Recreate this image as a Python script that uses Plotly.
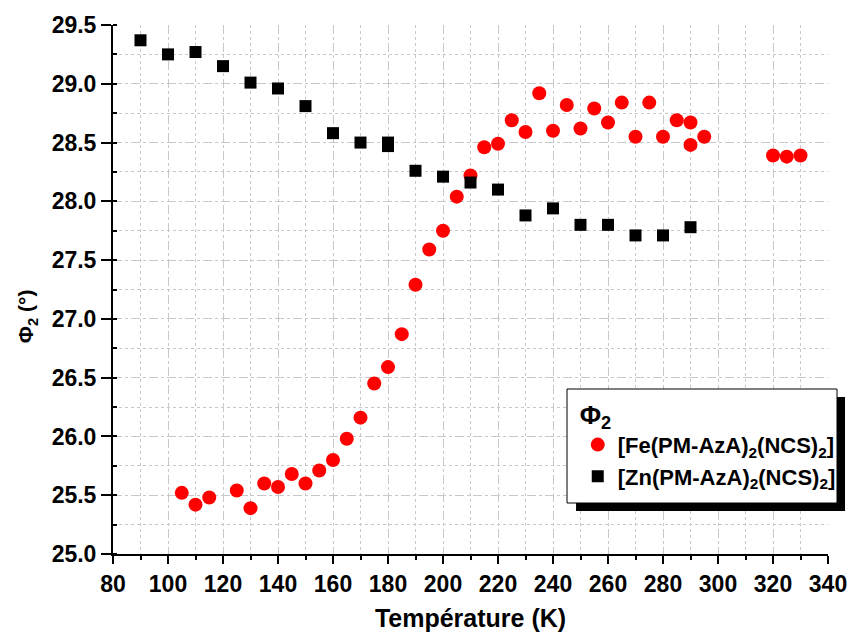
import plotly.graph_objects as go

# Fe complex (red circles)
fe_T = [105, 110, 115, 125, 130, 135, 140, 145, 150, 155, 160, 165, 170, 175, 180,
        185, 190, 195, 200, 205, 210, 215, 220, 225, 230, 235, 240, 245, 250, 255,
        260, 265, 270, 275, 280, 285, 290, 290, 295, 320, 325, 330]
fe_phi = [25.52, 25.42, 25.48, 25.54, 25.39, 25.60, 25.57, 25.68, 25.60, 25.71, 25.80,
          25.98, 26.16, 26.45, 26.59, 26.87, 27.29, 27.59, 27.75, 28.04, 28.22, 28.46,
          28.49, 28.69, 28.59, 28.92, 28.60, 28.82, 28.62, 28.79, 28.67, 28.84, 28.55,
          28.84, 28.55, 28.69, 28.67, 28.48, 28.55, 28.39, 28.38, 28.39]

# Zn complex (black squares)
zn_T = [90, 100, 110, 120, 130, 140, 150, 160, 170, 180, 180, 190, 200, 210, 220,
        230, 240, 250, 260, 270, 280, 290]
zn_phi = [29.37, 29.25, 29.27, 29.15, 29.01, 28.96, 28.81, 28.58, 28.50, 28.50, 28.47,
          28.26, 28.21, 28.16, 28.10, 27.88, 27.94, 27.80, 27.80, 27.71, 27.71, 27.78]

x_ticks = list(range(80, 341, 20))
y_ticks = [25.0, 25.5, 26.0, 26.5, 27.0, 27.5, 28.0, 28.5, 29.0, 29.5]

FONT = "Arial, Liberation Sans, sans-serif"

fig = go.Figure()
fig.add_trace(go.Scatter(
    x=fe_T, y=fe_phi, mode="markers",
    name="<b>[Fe(PM-AzA)<sub>2</sub>(NCS)<sub>2</sub>]</b>",
    marker=dict(symbol="circle", size=14, color="#ff0000", line=dict(width=0)),
))
fig.add_trace(go.Scatter(
    x=zn_T, y=zn_phi, mode="markers",
    name="<b>[Zn(PM-AzA)<sub>2</sub>(NCS)<sub>2</sub>]</b>",
    marker=dict(symbol="square", size=12, color="#000000", line=dict(width=0)),
))

grid_col = "#c8c8c8"
fig.update_xaxes(
    range=[80, 340], tickvals=x_ticks, ticktext=[f"<b>{v}</b>" for v in x_ticks],
    showline=True, linecolor="black", linewidth=2, mirror=False,
    ticks="outside", ticklen=8, tickwidth=2, tickcolor="black",
    showgrid=True, gridcolor=grid_col, griddash="dash", gridwidth=1,
    minor=dict(dtick=10, tick0=80, ticks="outside", ticklen=4, tickwidth=2,
               tickcolor="black", showgrid=True, gridcolor=grid_col, griddash="dot"),
    zeroline=False,
    tickfont=dict(family=FONT, size=23, color="black"),
    title=dict(text="<b>Température (K)</b>", font=dict(family=FONT, size=25, color="black"),
               standoff=14),
)
fig.update_yaxes(
    range=[25, 29.5], tickvals=y_ticks, ticktext=[f"<b>{v:.1f}</b>" for v in y_ticks],
    showline=True, linecolor="black", linewidth=2, mirror=False,
    ticks="outside", ticklen=10, tickwidth=2, tickcolor="black",
    showgrid=True, gridcolor=grid_col, griddash="dash", gridwidth=1,
    minor=dict(dtick=0.25, tick0=25, ticks="inside", ticklen=4, tickwidth=2,
               tickcolor="black", showgrid=True, gridcolor=grid_col, griddash="dot"),
    zeroline=False,
    tickfont=dict(family=FONT, size=23, color="black"),
)

# y-axis title placed as in the reference (slightly below the axis centre)
fig.add_annotation(
    text="<b>Φ<sub>2</sub> (°)</b>", textangle=-90,
    xref="paper", yref="paper", x=-0.12, y=0.45,
    xanchor="center", yanchor="middle", showarrow=False,
    font=dict(family=FONT, size=21, color="black"),
)

# legend frame with drop shadow
fig.add_shape(type="rect", xref="paper", yref="paper",
              x0=0.6476, x1=1.0238, y0=0.0813, y1=0.2968,
              fillcolor="black", line=dict(width=0), layer="above")
fig.add_shape(type="rect", xref="paper", yref="paper",
              x0=0.635, x1=1.0126, y0=0.0964, y1=0.3119,
              fillcolor="white", line=dict(color="black", width=1), layer="above")

fig.update_layout(
    width=850, height=639,
    margin=dict(l=113, r=22, t=25, b=85, autoexpand=False),
    paper_bgcolor="white", plot_bgcolor="white",
    showlegend=True,
    legend=dict(
        x=0.65, y=0.31, xanchor="left", yanchor="top",
        bgcolor="rgba(0,0,0,0)", borderwidth=0,
        title=dict(text="<b>Φ<sub>2</sub></b>", font=dict(family=FONT, size=26, color="black")),
        font=dict(family=FONT, size=22, color="black"),
        itemwidth=30, tracegroupgap=0,
    ),
    font=dict(family=FONT, color="black"),
)

fig.write_html(
    "out.html",
    config={"displayModeBar": False},
    post_script="document.body.style.margin='0';document.body.style.overflow='hidden';",
)
